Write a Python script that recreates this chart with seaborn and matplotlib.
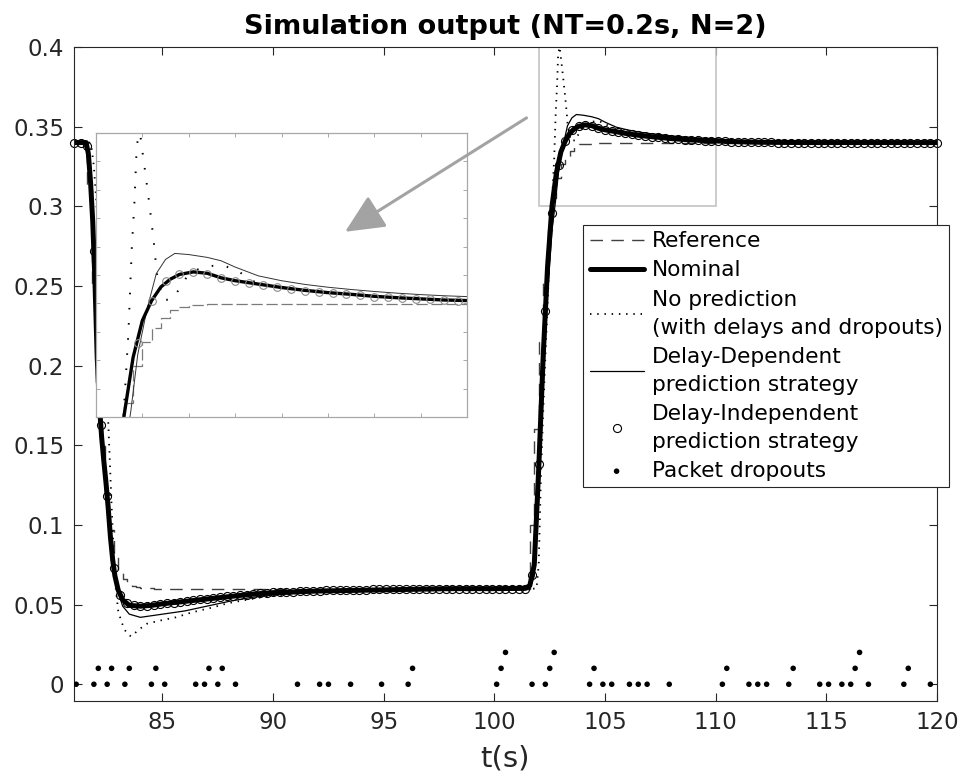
import numpy as np
import matplotlib
matplotlib.use("Agg")
import matplotlib.pyplot as plt
import seaborn as sns
from matplotlib.patches import Rectangle
from matplotlib.ticker import FormatStrFormatter, MultipleLocator

sns.set_theme(style="ticks")
plt.rcParams["font.family"] = ["DejaVu Sans"]

# ---- data ----
# reference (zero-order hold, 0.2 s samples)
ref_t = [81.0, 81.6, 81.8, 82.0, 82.2, 82.4, 82.6, 82.8, 83.0, 83.2,
         83.4, 83.6, 83.8, 84.0, 84.6, 101.6, 101.8, 102.0, 102.2, 102.4,
         102.6, 102.8, 103.0, 103.2, 103.4, 103.6, 103.8, 104.0, 104.4, 120.0]
ref_v = [0.340, 0.310, 0.250, 0.190, 0.150, 0.120, 0.097, 0.082, 0.072, 0.066,
         0.063, 0.0615, 0.061, 0.0605, 0.060, 0.100, 0.160, 0.215, 0.255, 0.285,
         0.305, 0.318, 0.3265, 0.3314, 0.3349, 0.3377, 0.3388, 0.3394, 0.3398, 0.3398]

# nominal response
nom_t = [81.0, 81.55, 81.65, 81.75, 81.85, 81.95, 82.05, 82.15, 82.25, 82.35,
         82.45, 82.55, 82.65, 82.75, 82.85, 83.0, 83.2, 83.5, 84.0, 84.5,
         85.0, 86.0, 87.0, 88.0, 89.0, 90.0, 91.0, 92.0, 94.0, 96.0,
         98.0, 100.0, 101.4, 101.6, 101.8, 102.0, 102.2, 102.4, 102.6, 102.8,
         103.0, 103.2, 103.4, 103.6, 103.8, 104.1, 104.4, 104.7, 105.0, 105.5,
         106.0, 106.5, 107.0, 107.5, 108.0, 108.5, 109.0, 109.5, 110.0, 111.0,
         112.0, 114.0, 120.0]
nom_v = [0.340, 0.340, 0.333, 0.315, 0.290, 0.252, 0.205, 0.175, 0.155, 0.140,
         0.126, 0.110, 0.092, 0.078, 0.068, 0.059, 0.053, 0.0495, 0.049, 0.0495,
         0.0505, 0.052, 0.0535, 0.055, 0.0565, 0.0575, 0.058, 0.0585, 0.059, 0.0595,
         0.060, 0.060, 0.0602, 0.062, 0.075, 0.135, 0.205, 0.262, 0.300, 0.321,
         0.334, 0.341, 0.3458, 0.3485, 0.3502, 0.3511, 0.3506, 0.349, 0.348, 0.3468,
         0.3456, 0.3446, 0.3438, 0.3432, 0.3425, 0.342, 0.3416, 0.3412, 0.341, 0.3405,
         0.3402, 0.340, 0.340]

# no prediction (with delays and dropouts)
nopred_t = [81.0, 81.7, 81.8, 81.9, 82.0, 82.1, 82.2, 82.3, 82.4, 82.55,
            82.7, 82.85, 83.0, 83.15, 83.3, 83.45, 83.6, 83.9, 84.3, 84.9,
            85.6, 86.3, 87.2, 88.0, 89.5, 91.0, 93.0, 96.0, 100.0, 101.9,
            102.0, 102.1, 102.2, 102.3, 102.45, 102.61, 102.7, 102.77, 102.83, 102.88,
            102.95, 102.98, 103.06, 103.13, 103.2, 103.26, 103.31, 103.45, 103.65, 103.81,
            103.96, 104.2, 104.47, 104.74, 105.0, 105.45, 106.0, 107.0, 108.0, 109.0,
            110.0, 111.0, 112.0, 114.0, 120.0]
nopred_v = [0.340, 0.340, 0.336, 0.325, 0.305, 0.280, 0.255, 0.228, 0.200, 0.164,
            0.112, 0.065, 0.046, 0.039, 0.034, 0.031, 0.030, 0.034, 0.038, 0.040,
            0.042, 0.045, 0.048, 0.051, 0.0547, 0.057, 0.0585, 0.0595, 0.060, 0.060,
            0.075, 0.130, 0.170, 0.205, 0.255, 0.305, 0.330, 0.359, 0.376, 0.396,
            0.400, 0.396, 0.3864, 0.3776, 0.3683, 0.3595, 0.3507, 0.3412, 0.3414, 0.3455,
            0.3494, 0.352, 0.3532, 0.3533, 0.352, 0.3473, 0.3458, 0.3438, 0.3425, 0.3416,
            0.341, 0.3405, 0.3402, 0.340, 0.340]

# delay-dependent prediction strategy
dd_t = [81.0, 81.55, 81.65, 81.75, 81.85, 81.95, 82.05, 82.2, 82.4, 82.6,
        82.8, 83.0, 83.2, 83.5, 84.0, 84.5, 85.0, 86.0, 87.0, 88.0,
        89.0, 90.0, 92.0, 94.0, 96.0, 100.0, 101.6, 101.8, 102.0, 102.2,
        102.4, 102.6, 102.75, 102.9, 103.1, 103.3, 103.5, 103.7, 104.0, 104.4,
        104.7, 105.0, 105.5, 106.0, 106.5, 107.0, 107.5, 108.0, 108.5, 109.0,
        109.5, 110.0, 111.0, 112.0, 113.0, 120.0]
dd_v = [0.340, 0.340, 0.334, 0.318, 0.293, 0.258, 0.205, 0.168, 0.135, 0.102,
        0.075, 0.058, 0.049, 0.044, 0.042, 0.043, 0.044, 0.046, 0.049, 0.052,
        0.0545, 0.056, 0.058, 0.059, 0.0595, 0.060, 0.060, 0.068, 0.115, 0.185,
        0.245, 0.285, 0.302, 0.322, 0.338, 0.3505, 0.3555, 0.3576, 0.3572, 0.3562,
        0.355, 0.3528, 0.3497, 0.348, 0.3467, 0.3457, 0.3449, 0.3442, 0.3436, 0.3431,
        0.3427, 0.3424, 0.341, 0.3404, 0.3401, 0.340]

# delay-independent prediction strategy, one marker every 0.3 s from t = 81 s
di_t0, di_dt = 81.0, 0.3
di_v = [0.340, 0.340, 0.338, 0.272, 0.163, 0.118, 0.073, 0.056, 0.0512, 0.0497,
        0.0492, 0.0494, 0.0498, 0.0503, 0.0508, 0.0513, 0.0518, 0.0523, 0.0528, 0.0533,
        0.0538, 0.0542, 0.0547, 0.0551, 0.0555, 0.0559, 0.0563, 0.0567, 0.0570, 0.0573,
        0.0576, 0.0578, 0.0580, 0.0582, 0.0584, 0.0585, 0.0587, 0.0588, 0.0589, 0.0590,
        0.0591, 0.0592, 0.0593, 0.0594, 0.0594, 0.0595, 0.0596, 0.0596, 0.0597, 0.0597,
        0.0598, 0.0598, 0.0598, 0.0599, 0.0599, 0.0599, 0.0599, 0.0600, 0.0600, 0.0600,
        0.0600, 0.0600, 0.0600, 0.0600, 0.0600, 0.0600, 0.0600, 0.0600, 0.0600, 0.0685,
        0.138, 0.234, 0.296, 0.326, 0.341, 0.3479, 0.3504, 0.3511, 0.3505, 0.3490,
        0.3479, 0.3473, 0.3466, 0.3457, 0.3452, 0.3445, 0.3440, 0.3436, 0.3433, 0.3428,
        0.3424, 0.3422, 0.3419, 0.3416, 0.3414, 0.3412, 0.3410, 0.3409, 0.3408, 0.3406,
        0.3405, 0.3404, 0.3403, 0.3402, 0.3402, 0.3401, 0.3400, 0.3400, 0.3400, 0.3400,
        0.340, 0.340, 0.340, 0.340, 0.340, 0.340, 0.340, 0.340, 0.340, 0.340,
        0.340, 0.340, 0.340, 0.340, 0.340, 0.340, 0.340, 0.340, 0.340, 0.340, 0.340]
di_t = di_t0 + di_dt * np.arange(len(di_v))

# packet dropouts (level = number of consecutive drops x 0.01)
drop_t = [81.1, 81.9, 82.5, 83.3, 84.5, 85.1, 86.5, 86.9, 87.5, 88.3,
          91.1, 92.1, 92.5, 93.5, 94.9, 96.1, 100.1, 101.7, 102.3, 104.3,
          104.9, 105.3, 106.1, 106.5, 106.9, 107.9, 110.3, 111.5, 111.9, 112.3,
          113.3, 114.7, 115.1, 115.7, 116.1, 116.9, 118.5, 119.7,
          82.1, 82.7, 83.5, 84.7, 87.1, 87.7, 96.3, 100.3, 102.5, 104.5,
          110.5, 113.5, 116.3, 118.7,
          100.5, 102.7, 116.5]
drop_lvl = [0.0] * 38 + [0.01] * 14 + [0.02] * 3

labels = ["Reference", "Nominal", "No prediction\n(with delays and dropouts)",
          "Delay-Dependent\nprediction strategy", "Delay-Independent\nprediction strategy",
          "Packet dropouts"]

zoom_x = (102, 110)
zoom_y = (0.30, 0.40)

# ---- figure ----
fig = plt.figure(figsize=(9.67, 7.78), dpi=100)
ax = fig.add_axes([0.0765, 0.099, 0.8925, 0.8406])
dark = "#262626"

sns.lineplot(x=ref_t, y=ref_v, ax=ax, color="#404040", lw=1.0, ls=(0, (9, 6)),
             drawstyle="steps-post", sort=False, estimator=None, label=labels[0])
sns.lineplot(x=nom_t, y=nom_v, ax=ax, color="black", lw=3.6, sort=False,
             estimator=None, label=labels[1])
sns.lineplot(x=nopred_t, y=nopred_v, ax=ax, color="black", lw=1.3, ls=(0, (0.8, 3.2)),
             sort=False, estimator=None, label=labels[2])
sns.lineplot(x=dd_t, y=dd_v, ax=ax, color="black", lw=0.9, sort=False,
             estimator=None, label=labels[3])
sns.lineplot(x=di_t, y=di_v, ax=ax, marker="o", ls="", mfc="none", mec="black",
             mew=0.8, ms=5.8, sort=False, estimator=None, clip_on=False, label=labels[4])
sns.scatterplot(x=drop_t, y=drop_lvl, ax=ax, color="black", s=16, edgecolor="none",
                label=labels[5], zorder=4)

ax.add_patch(Rectangle((zoom_x[0], zoom_y[0]), zoom_x[1] - zoom_x[0],
                       zoom_y[1] - zoom_y[0], fill=False, ec="#c4c4c4", lw=1.2, zorder=1))

ax.set_xlim(81, 120)
ax.set_ylim(-0.0105, 0.4)
ax.set_xticks([85, 90, 95, 100, 105, 110, 115, 120])
ax.set_yticks([0, 0.05, 0.1, 0.15, 0.2, 0.25, 0.3, 0.35, 0.4])
ax.yaxis.set_major_formatter(FormatStrFormatter("%g"))
ax.tick_params(direction="in", length=6, width=0.8, top=True, right=True,
               labelsize=16.5, colors=dark, pad=7)
for s in ax.spines.values():
    s.set_color(dark)
    s.set_linewidth(0.8)
ax.set_xlabel("t(s)", fontsize=21, color=dark, labelpad=8)
ax.set_ylabel("")
ax.set_title("Simulation output (NT=0.2s, N=2)", fontsize=19.5, fontweight="bold",
             pad=9, color="black")

handles, labs = ax.get_legend_handles_labels()
leg = ax.legend(handles, labs, loc="upper left", bbox_to_anchor=(0.5898, 0.728),
                borderaxespad=0, fontsize=15.6, frameon=True, fancybox=False,
                framealpha=1, edgecolor=dark, handlelength=2.5, handletextpad=0.37,
                labelspacing=0.42, borderpad=0.3)
leg.get_frame().set_linewidth(0.8)
for t in leg.get_texts():
    t.set_linespacing(1.5)
    t.set_color("black")

# ---- zoomed inset ----
axin = fig.add_axes([0.09928, 0.4640, 0.38366, 0.36504])
axin.set_facecolor("white")
sns.lineplot(x=ref_t, y=ref_v, ax=axin, color="#7a7a7a", lw=0.9, ls=(0, (9, 3)),
             drawstyle="steps-post", sort=False, estimator=None, legend=False)
sns.lineplot(x=nopred_t, y=nopred_v, ax=axin, color="black", lw=1.4, ls=(0, (0.8, 7)),
             sort=False, estimator=None, legend=False)
sns.lineplot(x=dd_t, y=dd_v, ax=axin, color="#333333", lw=0.7, sort=False,
             estimator=None, legend=False)
sns.lineplot(x=nom_t, y=nom_v, ax=axin, color="black", lw=2.4, sort=False,
             estimator=None, legend=False)
sns.lineplot(x=di_t, y=di_v, ax=axin, marker="o", ls="", mfc="none", mec="#8a8a8a",
             mew=0.8, ms=5.5, sort=False, estimator=None, legend=False)
axin.set_xlim(*zoom_x)
axin.set_ylim(*zoom_y)
axin.xaxis.set_major_locator(MultipleLocator(1))
axin.yaxis.set_major_locator(MultipleLocator(0.01))
axin.tick_params(direction="in", length=3, width=0.6, top=True, right=True,
                 labelbottom=False, labelleft=False, colors="#9a9a9a")
for s in axin.spines.values():
    s.set_color("#a8a8a8")
    s.set_linewidth(0.9)
axin.set_xlabel("")
axin.set_ylabel("")

# arrow from the zoom box toward the inset
axin.annotate("", xy=(93.25, 0.284), xycoords=ax.transData,
              xytext=(101.45, 0.3555), textcoords=ax.transData,
              arrowprops=dict(arrowstyle="-|>,head_length=0.6,head_width=0.28",
                              color="#a3a3a3", lw=2.2, mutation_scale=40,
                              shrinkA=0, shrinkB=0),
              annotation_clip=False)

fig.savefig("out.png", dpi=100)
